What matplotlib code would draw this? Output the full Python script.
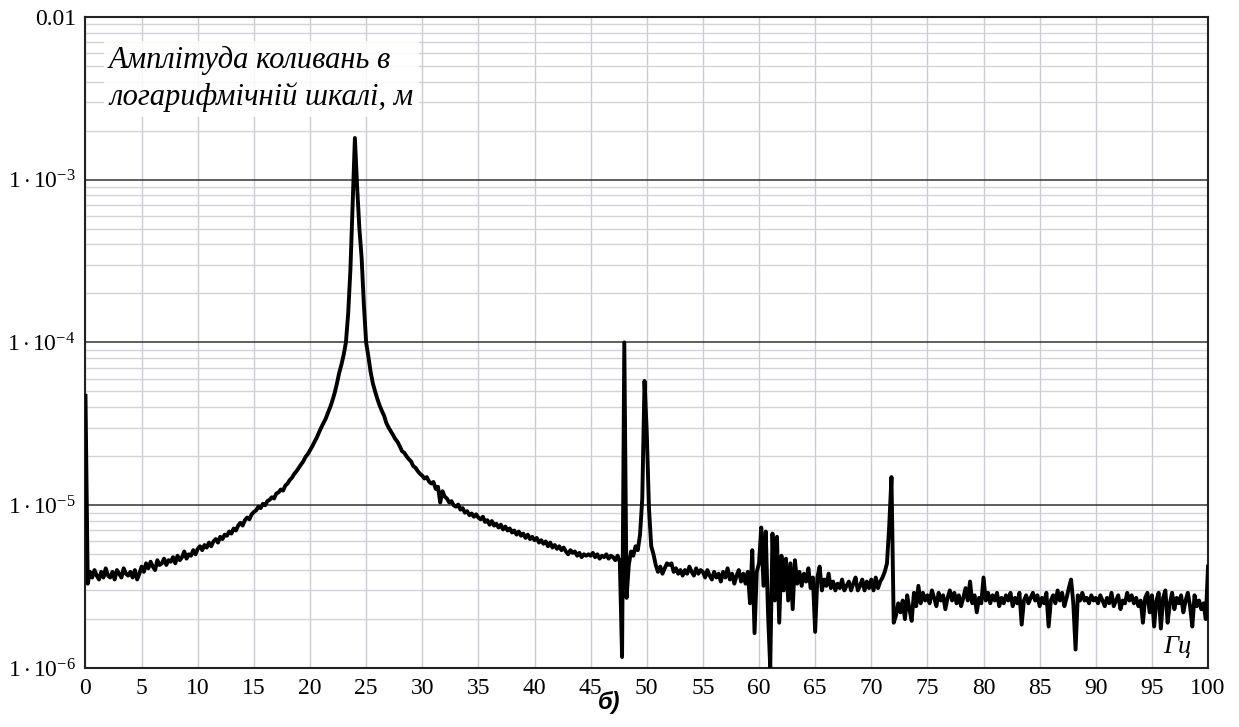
import numpy as np
import matplotlib
matplotlib.use('Agg')
import matplotlib.pyplot as plt
from matplotlib.ticker import LogLocator, FixedLocator, NullFormatter

plt.rcParams['font.family'] = ['Liberation Serif', 'DejaVu Serif']
plt.rcParams['mathtext.fontset'] = 'custom'
plt.rcParams['mathtext.rm'] = 'Liberation Serif'
plt.rcParams['mathtext.it'] = 'Liberation Serif:italic'

# amplitude spectrum, micrometres, 0.2 Hz step, 5 Hz per row
seg_00 = [47, 3.3, 3.9, 3.6, 4.0, 3.7, 3.5, 3.9, 3.6, 4.1, 3.7, 3.6, 3.9, 3.5, 4.0, 3.8, 3.6, 4.1, 3.8, 3.7, 3.9, 3.6, 4.0, 3.5, 3.8]
seg_05 = [4.2, 3.9, 4.4, 4.1, 4.5, 4.2, 4.0, 4.6, 4.3, 4.4, 4.7, 4.3, 4.6, 4.5, 4.8, 4.4, 4.9, 4.6, 4.8, 5.2, 4.7, 5.0, 4.9, 5.3, 5.0]
seg_10 = [5.4, 5.6, 5.3, 5.7, 5.5, 5.9, 5.6, 6.0, 6.2, 5.9, 6.4, 6.2, 6.6, 6.5, 6.9, 6.7, 7.2, 7.0, 7.5, 7.8, 7.5, 8.1, 8.4, 8.2, 8.8]
seg_15 = [9.1, 9.3, 9.8, 9.6, 10.2, 10.0, 10.6, 10.8, 11.2, 11.0, 11.8, 12.0, 12.5, 12.3, 13.2, 13.6, 14.3, 14.8, 15.6, 16.2, 17.0, 17.8, 18.6, 19.8, 20.6]
seg_20 = [21.8, 23, 24.5, 26, 28, 30, 32, 34, 37, 40, 44, 49, 56, 65, 73, 84, 100, 150, 280, 700, 1800, 900, 500, 330, 170]
seg_25 = [100, 82, 66, 56, 50, 45, 41, 38, 35.5, 32, 30, 28.5, 27, 25.5, 24.5, 23, 21.5, 21, 20, 19.2, 18.6, 17.4, 17.0, 16.2, 15.6]
seg_30 = [15.2, 14.6, 14.9, 14.0, 13.6, 13.9, 12.6, 13.0, 10.4, 12.2, 11.3, 11.0, 10.4, 10.6, 10.0, 9.8, 10.1, 9.4, 9.6, 9.0, 9.2, 8.7, 8.9, 8.5, 8.8]
seg_35 = [8.4, 8.2, 8.5, 7.9, 8.1, 7.6, 8.0, 7.5, 7.7, 7.3, 7.6, 7.1, 7.4, 7.0, 7.2, 6.8, 7.0, 6.6, 6.9, 6.5, 6.7, 6.3, 6.6, 6.2, 6.4]
seg_40 = [6.1, 6.3, 5.9, 6.1, 5.8, 6.0, 5.6, 5.9, 5.5, 5.7, 5.4, 5.6, 5.3, 5.5, 5.2, 5.0, 5.3, 5.1, 5.2, 4.9, 5.1, 4.8, 5.0, 4.9, 5.0]
seg_45 = [4.9, 5.1, 4.8, 5.0, 4.7, 4.9, 4.8, 5.0, 4.7, 4.9, 4.8, 4.6, 4.9, 4.5, 1.17, 100, 2.7, 4.3, 5.2, 4.9, 5.6, 5.3, 6.6, 11, 58]
seg_50 = [28, 9.5, 5.6, 5.0, 4.3, 3.9, 4.2, 3.8, 4.1, 4.4, 4.3, 4.4, 3.9, 4.1, 3.8, 4.0, 3.7, 4.0, 3.8, 4.2, 3.9, 3.7, 4.1, 3.8, 4.0]
seg_55 = [3.9, 3.6, 4.0, 3.7, 3.5, 3.9, 3.6, 3.8, 3.4, 3.9, 3.6, 4.1, 3.5, 3.8, 3.3, 3.7, 4.0, 3.4, 3.8, 3.3, 3.9, 2.5, 5.3, 1.64, 3.9]
seg_60 = [4.4, 7.3, 3.2, 6.9, 2.2, 1.0, 6.7, 2.6, 6.4, 1.9, 4.9, 3.0, 4.7, 2.6, 4.4, 2.3, 4.6, 3.3, 3.9, 3.2, 3.8, 3.4, 4.1, 3.1, 3.6]
seg_65 = [1.67, 3.6, 4.2, 3.0, 3.5, 3.2, 3.8, 3.1, 3.4, 3.0, 3.3, 3.1, 3.5, 3.0, 3.2, 3.4, 3.0, 3.3, 3.6, 3.0, 3.2, 3.5, 3.0, 3.4, 3.1]
seg_70 = [3.5, 3.0, 3.6, 3.1, 3.4, 3.6, 3.9, 4.4, 7.5, 14.9, 1.9, 2.1, 2.5, 2.2, 2.6, 2.0, 2.8, 2.3, 1.95, 2.9, 2.4, 3.2, 2.5, 2.9, 2.6]
seg_75 = [2.8, 2.5, 3.0, 2.7, 2.4, 2.9, 2.6, 2.8, 2.3, 2.7, 3.0, 2.6, 2.9, 2.5, 2.8, 2.4, 2.7, 3.1, 2.6, 3.4, 2.5, 2.8, 2.2, 2.7, 2.5]
seg_80 = [3.6, 2.6, 2.9, 2.5, 2.8, 2.6, 2.9, 2.4, 2.7, 2.5, 2.8, 2.6, 2.9, 2.4, 2.7, 2.5, 2.9, 1.85, 2.6, 2.8, 2.5, 2.7, 2.9, 2.6, 2.8]
seg_85 = [2.4, 2.7, 2.5, 2.9, 1.8, 2.6, 2.8, 2.5, 3.0, 2.6, 2.9, 2.4, 2.7, 3.1, 3.5, 2.5, 1.3, 2.8, 2.6, 2.9, 2.6, 2.7, 2.5, 2.8, 2.6]
seg_90 = [2.7, 2.5, 2.8, 2.6, 2.4, 2.7, 2.5, 2.9, 2.4, 2.6, 2.8, 2.3, 2.6, 2.5, 2.9, 2.6, 2.8, 2.5, 2.7, 2.4, 2.6, 1.9, 2.7, 2.9, 2.2]
seg_95 = [2.8, 1.8, 2.6, 2.9, 1.75, 2.7, 3.0, 1.9, 2.5, 2.9, 2.3, 2.7, 2.5, 2.8, 2.2, 2.6, 2.9, 2.4, 1.8, 2.8, 2.4, 2.6, 2.3, 2.5, 2.0]
last = [4.2]

segs = [seg_00, seg_05, seg_10, seg_15, seg_20, seg_25, seg_30, seg_35, seg_40, seg_45,
        seg_50, seg_55, seg_60, seg_65, seg_70, seg_75, seg_80, seg_85, seg_90, seg_95]
for s in segs:
    assert len(s) == 25, len(s)
amp_um = np.concatenate(segs + [last])
freq = np.linspace(0, 100, len(amp_um))
amp = amp_um * 1e-6

x_ticks = list(range(0, 101, 5))
y_ticks = [1e-6, 1e-5, 1e-4, 1e-3, 1e-2]
y_labels = [r'$1\cdot10^{-6}$', r'$1\cdot10^{-5}$', r'$1\cdot10^{-4}$', r'$1\cdot10^{-3}$', '0.01']

fig = plt.figure(figsize=(12.39, 7.27), dpi=100)
ax = fig.add_axes([0.069, 0.081, 0.906, 0.896])
ax.set_yscale('log')
ax.set_xlim(0, 100)
ax.set_ylim(1e-6, 1e-2)

ax.plot(freq, amp, color='black', lw=2.8, solid_joinstyle='round', zorder=3)

ax.xaxis.set_major_locator(FixedLocator(x_ticks))
ax.yaxis.set_major_locator(FixedLocator(y_ticks))
ax.yaxis.set_minor_locator(LogLocator(base=10, subs=np.arange(2, 10)))
ax.yaxis.set_minor_formatter(NullFormatter())
ax.set_xticklabels([str(t) for t in x_ticks], fontsize=17)
ax.set_yticklabels(y_labels, fontsize=17)
ax.tick_params(which='both', length=0)
ax.tick_params(axis='x', pad=7)
ax.tick_params(axis='y', pad=7)

ax.grid(True, axis='x', which='major', color='#cbcbd6', lw=1.0)
ax.grid(True, axis='y', which='minor', color='#d2d2da', lw=1.0)
ax.grid(True, axis='y', which='major', color='#333333', lw=1.1)
ax.set_axisbelow(True)
for sp in ax.spines.values():
    sp.set_linewidth(1.5)
    sp.set_color('#222222')

ax.text(0.021, 0.955, 'Амплітуда коливань в\nлогарифмічній шкалі, м', transform=ax.transAxes,
        fontsize=22, style='italic', ha='left', va='top', linespacing=1.3, zorder=4,
        bbox=dict(facecolor='white', edgecolor='none', alpha=0.85, pad=4))
ax.text(0.985, 0.015, 'Гц', transform=ax.transAxes, fontsize=19, style='italic',
        ha='right', va='bottom', zorder=4,
        bbox=dict(facecolor='white', edgecolor='none', pad=4))
fig.text(0.492, 0.018, 'б)', fontsize=17, fontweight='bold', style='italic',
         family=['Liberation Sans', 'DejaVu Sans'], ha='center', va='bottom')

fig.savefig('out.png', dpi=100, facecolor='white')
